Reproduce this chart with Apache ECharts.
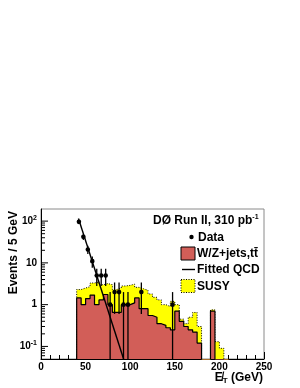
<!DOCTYPE html>
<html><head><meta charset="utf-8">
<script src="https://cdn.jsdelivr.net/npm/echarts@6/dist/echarts.min.js"></script>
<style>html,body{margin:0;padding:0;background:#fff}#c{width:300px;height:388px}</style>
</head><body><div id="c"></div>
<script>
// ---- data ----
const binLow = [40,45,50,55,60,65,70,75,80,85,90,95,100,105,110,115,120,125,130,135,140,145,150,155,160,165,170,175,180,185,190,195,200,205];
const binWidth = 5;
// W/Z+jets, ttbar histogram (events / 5 GeV)
const wzJets = [1.45,1.0,1.4,1.7,1.0,1.3,1.75,1.0,0.65,0.65,1.0,1.0,1.1,1.45,0.8,0.8,0.55,0.5,0.35,0.32,0.28,0.25,0.7,0.4,0.3,0.25,0.22,0.12,0,0,0.7,0,0,0];
// top of the stack (W/Z+jets + SUSY)
const stackTotal = [2.3,2.5,2.7,3.3,3.5,3.0,3.2,3.0,2.3,2.5,2.8,2.9,3.1,2.6,2.4,2.2,1.8,1.5,1.3,1.0,0.9,1.2,1.0,0.45,0.35,0.5,0.65,0.3,0,0,0.75,0.13,0.09,0];
// data points
const dataX = [42.5,47.5,52.5,57.5,62.5,67.5,72.5,77.5,82.5,87.5,92.5,97.5,112.5,147.5];
const dataY = [96,42,21,11,5,5,5,1,2,2,1,1,2,1];
const dataErr = [9.8,6.5,4.6,3.3,2.2,2.2,2.2,1,1.4,1.4,1,1,1.4,1];
// fitted QCD (straight line on log scale)
const qcdFitX = [42, 92.6];
const qcdFitY = [115, 0.05];
// axis ticks
const xTicks = [0,50,100,150,200,250];
const yMajorTicks = [0.1,1,10,100];
const yMinorTicks = [0.06,0.07,0.08,0.09,0.2,0.3,0.4,0.5,0.6,0.7,0.8,0.9,2,3,4,5,6,7,8,9,20,30,40,50,60,70,80,90];

const FLOOR = 0.001;
const FONT = '"Liberation Sans", Arial, sans-serif';
const RED = '#d25e58';
const YEL = '#ffff00';

function stepData(vals){
  const pts = [[binLow[0], FLOOR]];
  vals.forEach((v,i)=>pts.push([binLow[i], v>0 ? v : FLOOR]));
  pts.push([binLow[binLow.length-1]+binWidth, FLOOR]);
  return pts;
}

const chart = echarts.init(document.getElementById('c'), null, {renderer:'canvas'});
const option = {
  animation:false,
  backgroundColor:'#fff',
  grid:{left:41, top:209, width:223, height:150, show:true, borderColor:'#8a8a8a', borderWidth:1, backgroundColor:'transparent'},
  xAxis:{type:'value', min:xTicks[0], max:xTicks[xTicks.length-1], interval:50,
    axisLine:{show:true, onZero:false, lineStyle:{color:'#000', width:1}},
    axisTick:{show:true, inside:true, length:7, lineStyle:{color:'#000'}},
    minorTick:{show:true, splitNumber:5, length:4, lineStyle:{color:'#000'}},
    splitLine:{show:false},
    axisLabel:{color:'#000', fontFamily:FONT, fontWeight:'bold', fontSize:10, margin:3}
  },
  yAxis:{type:'log', logBase:10, min:0.05, max:195,
    axisLine:{show:true, lineStyle:{color:'#000', width:1}},
    axisTick:{show:false},
    splitLine:{show:false},
    axisLabel:{color:'#000', margin:4,
      formatter:function(v){
        const l = Math.log10(v), r = Math.round(l);
        if (Math.abs(l-r) > 1e-6) return '';
        if (r === 0) return '{n|1}';
        if (r === 1) return '{n|10}';
        return '{n|10}{s|' + r + '}';
      },
      rich:{
        n:{fontFamily:FONT, fontWeight:'bold', fontSize:10, color:'#000'},
        s:{fontFamily:FONT, fontWeight:'bold', fontSize:7, color:'#000', verticalAlign:'bottom', padding:[0,0,6,0]}
      }
    }
  },
  series:[
    { // SUSY on top of W/Z (stack total)
      type:'line', step:'end', data:stepData(stackTotal), symbol:'none', z:2,
      lineStyle:{color:'#000', width:1, type:[1,1.5]},
      areaStyle:{color:YEL, opacity:1, origin:'start'}
    },
    { // W/Z+jets, ttbar
      type:'line', step:'end', data:stepData(wzJets), symbol:'none', z:3,
      lineStyle:{color:'#000', width:1.2},
      areaStyle:{color:RED, opacity:1, origin:'start'}
    },
    { // fitted QCD
      type:'line', data:qcdFitX.map((x,i)=>[x,qcdFitY[i]]), symbol:'none', z:4,
      lineStyle:{color:'#000', width:1.4}
    },
    { // data points with error bars
      type:'custom', z:5, clip:true,
      data:dataX.map((x,i)=>[x,dataY[i],dataErr[i]]),
      renderItem:function(params, api){
        const x = api.value(0), y = api.value(1), e = api.value(2);
        const lo = (y - e) > 0 ? (y - e) : FLOOR;
        const p = api.coord([x,y]), pt = api.coord([x,y+e]), pl = api.coord([x,lo]);
        return {type:'group', children:[
          {type:'line', shape:{x1:p[0], y1:pt[1], x2:p[0], y2:pl[1]}, style:{stroke:'#000', lineWidth:1.3}},
          {type:'circle', shape:{cx:p[0], cy:p[1], r:2.3}, style:{fill:'#000'}}
        ]};
      }
    },
    { // y-axis major & minor ticks (log decades)
      type:'custom', z:6, silent:true,
      data:yMajorTicks.map(v=>[0,v,7]).concat(yMinorTicks.map(v=>[0,v,4])),
      renderItem:function(params, api){
        const p = api.coord([0, api.value(1)]);
        const len = api.value(2);
        return {type:'line', shape:{x1:p[0], y1:p[1], x2:p[0]+len, y2:p[1]}, style:{stroke:'#000', lineWidth:1}};
      }
    }
  ],
  graphic:[
    {type:'text', x:14, y:211, rotation:Math.PI/2, z:10,
      style:{text:'Events / 5 GeV', font:'bold 12px ' + FONT, fill:'#000', align:'right', verticalAlign:'middle'}},
    {type:'text', x:263, y:378, z:10,
      style:{text:'{b|E\u0338}{t|T}{b| (GeV)}', align:'right', verticalAlign:'middle',
        rich:{b:{font:'bold 12px ' + FONT, fill:'#000'}, t:{font:'bold 8px ' + FONT, fill:'#000', verticalAlign:'top', padding:[6,0,0,0]}}}},
    // legend
    {type:'text', x:153, y:221, z:10,
      style:{text:'{n|D\u00d8 Run II, 310 pb}{s|-1}', verticalAlign:'middle',
        rich:{n:{font:'bold 12px ' + FONT, fill:'#000'}, s:{font:'bold 7px ' + FONT, fill:'#000', verticalAlign:'bottom', padding:[0,0,7,0]}}}},
    {type:'circle', shape:{cx:191.5, cy:237, r:2.2}, style:{fill:'#000'}, z:10},
    {type:'text', x:198, y:237.5, z:10, style:{text:'Data', font:'bold 12px ' + FONT, fill:'#000', verticalAlign:'middle'}},
    {type:'rect', shape:{x:181, y:247, width:14, height:13}, style:{fill:RED, stroke:'#000', lineWidth:1}, z:10},
    {type:'text', x:197, y:253.5, z:10, style:{text:'W/Z+jets,tt\u0304', font:'bold 12px ' + FONT, fill:'#000', verticalAlign:'middle'}},
    {type:'line', shape:{x1:182, y1:269.5, x2:195, y2:269.5}, style:{stroke:'#000', lineWidth:1.4}, z:10},
    {type:'text', x:197, y:270, z:10, style:{text:'Fitted QCD', font:'bold 12px ' + FONT, fill:'#000', verticalAlign:'middle'}},
    {type:'rect', shape:{x:181, y:279.5, width:14, height:13}, style:{fill:YEL, stroke:'#000', lineWidth:1, lineDash:[1,1.5]}, z:10},
    {type:'text', x:197, y:286.5, z:10, style:{text:'SUSY', font:'bold 12px ' + FONT, fill:'#000', verticalAlign:'middle'}}
  ]
};
chart.setOption(option);
</script>
</body></html>
